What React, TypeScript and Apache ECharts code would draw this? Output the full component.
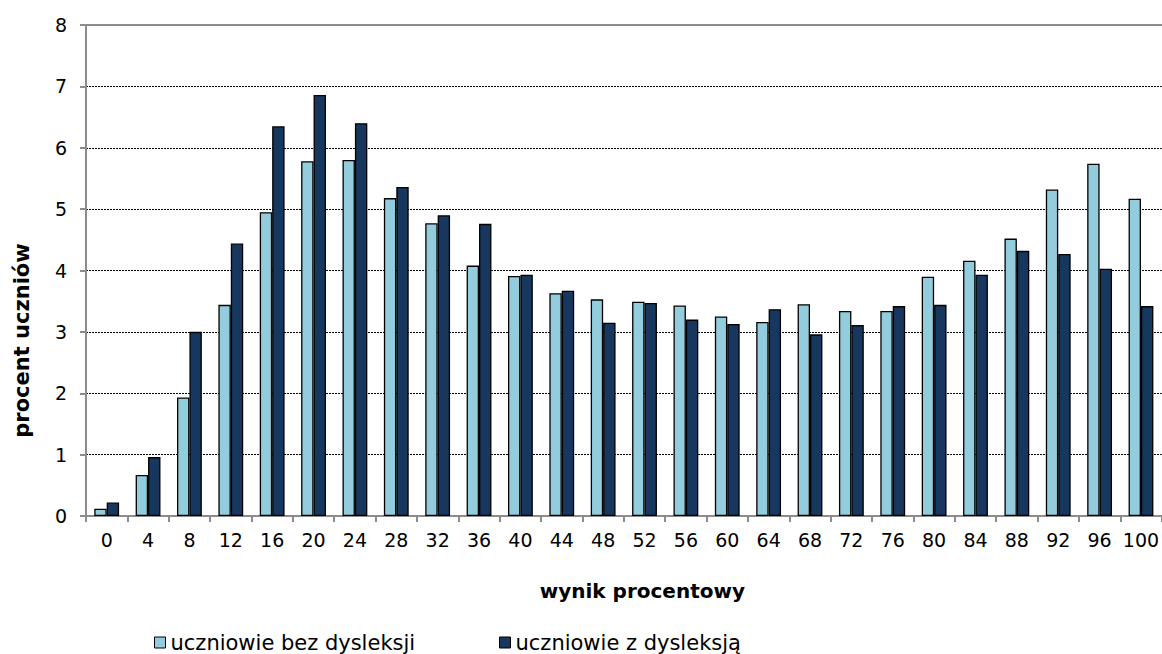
import React, { useEffect, useRef } from "react";
import * as echarts from "echarts";

const categories = ["0","4","8","12","16","20","24","28","32","36","40","44","48","52","56","60","64","68","72","76","80","84","88","92","96","100"];
const bezDysleksji = [0.12,0.67,1.93,3.44,4.95,5.78,5.80,5.18,4.77,4.08,3.91,3.63,3.53,3.49,3.43,3.25,3.16,3.45,3.34,3.34,3.90,4.16,4.52,5.32,5.74,5.17];
const zDysleksja = [0.22,0.96,3.00,4.44,6.35,6.86,6.40,5.36,4.90,4.76,3.93,3.67,3.15,3.47,3.20,3.13,3.37,2.96,3.11,3.42,3.44,3.93,4.32,4.27,4.03,3.42];
const yTicks = [0, 8, 1];
const seriesNames = ["uczniowie bez dysleksji", "uczniowie z dysleksją"];
const xTitle = "wynik procentowy";
const yTitle = "procent uczniów";

const FONT = "'DejaVu Sans', 'Liberation Sans', Arial, sans-serif";

export default function App() {
  const ref = useRef<HTMLDivElement>(null);
  useEffect(() => {
    const chart = echarts.init(ref.current!, null, { renderer: "svg" });
    const legendBase = {
      icon: "rect",
      itemWidth: 11, itemHeight: 11, itemGap: 5,
      textStyle: { fontSize: 21, color: "#000", fontFamily: FONT },
      itemStyle: { borderColor: "#000", borderWidth: 1 },
    };
    chart.setOption({
      animation: false,
      textStyle: { fontFamily: FONT },
      grid: { left: 86, top: 25, width: 1081.6, height: 491 },
      legend: [
        { ...legendBase, data: [seriesNames[0]], left: 149, top: 627 },
        { ...legendBase, data: [seriesNames[1]], left: 494, top: 627 },
      ],
      xAxis: [
        {
          type: "category",
          data: categories,
          name: xTitle,
          nameLocation: "middle",
          nameGap: 65,
          nameTextStyle: { fontSize: 20, fontWeight: "bold", color: "#000", fontFamily: FONT, padding: [0, 0, 0, 37] },
          axisLine: { lineStyle: { color: "#8c8c8c", width: 2 } },
          axisTick: { show: true, length: 6, interval: 0, lineStyle: { color: "#8c8c8c", width: 2 } },
          axisLabel: { fontSize: 19, color: "#000", margin: 14, interval: 0, fontFamily: FONT },
        },
        {
          type: "category",
          data: categories,
          position: "top",
          z: 10,
          axisLine: { show: true, lineStyle: { color: "#8c8c8c", width: 2 } },
          axisTick: { show: false },
          axisLabel: { show: false },
          splitLine: { show: false },
        },
      ],
      yAxis: {
        type: "value",
        min: yTicks[0], max: yTicks[1], interval: yTicks[2],
        name: yTitle,
        nameLocation: "middle",
        nameGap: 54,
        nameTextStyle: { fontSize: 21, fontWeight: "bold", color: "#000", fontFamily: FONT, padding: [0, 140, 0, 0] },
        axisLine: { show: true, lineStyle: { color: "#8c8c8c", width: 2 } },
        axisTick: { show: true, length: 6, lineStyle: { color: "#8c8c8c", width: 2 } },
        axisLabel: { fontSize: 19, color: "#000", margin: 19, fontFamily: FONT },
        splitLine: { show: true, lineStyle: { color: "#000", width: 1, type: [2, 1] } },
      },
      series: [
        {
          name: seriesNames[0], type: "bar", data: bezDysleksji,
          barGap: "0%", barCategoryGap: "40%",
          itemStyle: { color: "#93CDDD", borderColor: "#000", borderWidth: 1.3 },
        },
        {
          name: seriesNames[1], type: "bar", data: zDysleksja,
          barGap: "0%", barCategoryGap: "40%",
          itemStyle: { color: "#17375E", borderColor: "#000", borderWidth: 1.3 },
        },
      ],
    });
    return () => chart.dispose();
  }, []);
  return <div ref={ref} style={{ width: 1162, height: 654, position: "absolute", left: 0, top: 0 }} />;
}
